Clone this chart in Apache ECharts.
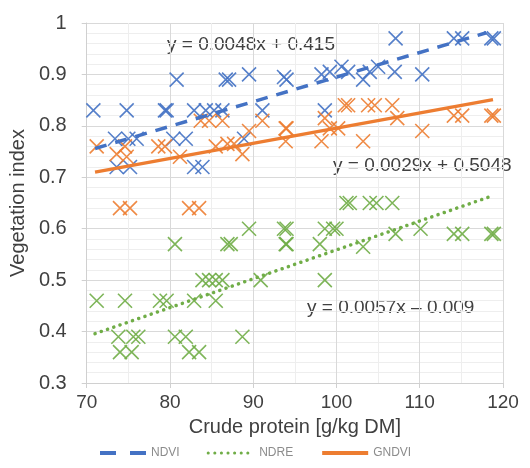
<!DOCTYPE html>
<html lang="en">
<head>
    <meta charset="UTF-8">
    <title>Vegetation index vs crude protein</title>
    <script src="https://cdn.jsdelivr.net/npm/echarts@6/dist/echarts.min.js"></script>
    <style>
        body { margin: 0; padding: 0; background: #fff; }
        #chart { width: 530px; height: 468px; }
    </style>
</head>
<body>
    <div id="chart"></div>
    <script>
        // measured points [crude protein, index]
        var ndviPts = [
            [70.8, 0.83], [74.8, 0.83], [79.4, 0.83], [79.6, 0.83], [82.9, 0.83], [84.3, 0.83], [85.3, 0.83],
            [86.3, 0.83], [91.1, 0.83], [98.6, 0.83],
            [80.8, 0.89], [86.7, 0.89], [87.1, 0.89], [89.5, 0.90], [93.7, 0.895], [94.0, 0.89],
            [98.2, 0.90], [99.2, 0.905], [100.6, 0.915], [101.4, 0.905], [103.2, 0.89], [104.0, 0.905],
            [105.0, 0.915], [107.0, 0.905], [110.3, 0.90],
            [107.1, 0.97], [114.1, 0.97], [115.1, 0.97], [118.6, 0.97], [118.9, 0.97],
            [73.4, 0.775], [75.0, 0.775], [76.0, 0.775], [80.4, 0.775], [81.9, 0.775], [88.9, 0.775],
            [73.6, 0.72], [75.2, 0.72], [82.9, 0.72], [83.9, 0.72]
        ];
        var gndviPts = [
            [71.2, 0.76], [73.6, 0.745], [74.6, 0.76], [74.8, 0.74], [78.6, 0.76], [79.4, 0.76], [81.2, 0.74],
            [83.7, 0.81], [84.7, 0.81], [86.3, 0.81], [85.5, 0.76], [86.9, 0.765], [87.7, 0.765], [88.7, 0.745],
            [89.5, 0.79], [91.1, 0.81], [93.9, 0.795], [94.0, 0.795], [93.9, 0.77], [98.2, 0.77], [98.6, 0.815],
            [99.2, 0.795], [100.2, 0.795], [101.0, 0.84], [101.4, 0.84], [103.8, 0.84], [104.6, 0.84],
            [106.7, 0.84], [107.3, 0.815], [103.2, 0.77], [110.3, 0.79], [114.1, 0.82], [115.1, 0.82],
            [118.6, 0.82], [118.9, 0.82],
            [74.0, 0.64], [75.2, 0.64], [82.3, 0.64], [83.5, 0.64]
        ];
        var ndrePts = [
            [71.2, 0.46], [74.6, 0.46], [78.8, 0.46], [79.6, 0.46], [82.9, 0.46], [85.5, 0.46],
            [80.6, 0.57], [86.9, 0.57], [87.3, 0.57], [89.5, 0.60], [93.7, 0.60], [93.9, 0.57],
            [83.9, 0.50], [84.7, 0.50], [85.5, 0.50], [86.3, 0.50], [90.9, 0.50], [98.6, 0.50],
            [88.7, 0.39], [73.8, 0.39], [75.6, 0.39], [76.2, 0.39], [80.6, 0.39], [81.9, 0.39],
            [74.0, 0.36], [75.4, 0.36], [82.3, 0.36], [83.5, 0.36],
            [101.2, 0.65], [101.6, 0.65], [104.0, 0.65], [104.8, 0.65], [106.7, 0.65],
            [94.0, 0.60], [94.0, 0.57], [98.6, 0.60], [99.6, 0.60], [100.0, 0.60], [98.0, 0.57],
            [103.2, 0.565], [107.1, 0.59], [110.1, 0.60], [114.1, 0.59], [115.1, 0.59], [118.6, 0.59], [118.9, 0.59]
        ];

        // linear trend lines (end points)
        var ndviTrend = [[71, 0.756], [118, 0.981]];
        var gndviTrend = [[71, 0.71], [118.8, 0.851]];
        var ndreTrend = [[71, 0.396], [118.2, 0.661]];

        var equations = ['y = 0.0048x + 0.415', 'y = 0.0029x + 0.5048', 'y = 0.0057x \u2013 0.009'];

        var blue = '#4472c4', orange = '#ed7d31', green = '#70ad47';
        var xMark = 'path://M0,0L10,10M10,0L0,10';
        var font = 'Liberation Sans';
        var ink = '#404040';

        function pts(name, data, color) {
            return {
                name: name,
                type: 'scatter',
                data: data,
                symbol: xMark,
                symbolSize: 14,
                itemStyle: { color: 'rgba(0,0,0,0)', borderColor: color, borderWidth: 1.6, opacity: 0.9 },
                z: 2
            };
        }

        var myChart = echarts.init(document.getElementById('chart'));

        myChart.setOption({
            animation: false,
            grid: { left: 83, right: 27, top: 23, bottom: 85 },
            textStyle: { fontFamily: font },
            xAxis: {
                type: 'value',
                min: 70, max: 120, interval: 10,
                name: 'Crude protein [g/kg DM]',
                nameLocation: 'middle',
                nameGap: 34,
                nameTextStyle: { fontSize: 20, color: ink, fontFamily: font },
                axisLine: { show: true, lineStyle: { color: '#d0d0d0' } },
                axisTick: { show: true, length: 5, lineStyle: { color: '#d0d0d0' } },
                axisLabel: { fontSize: 19, color: ink, margin: 10 },
                splitLine: { lineStyle: { color: '#d9d9d9' } },
                minorTick: { show: false, splitNumber: 2 },
                minorSplitLine: { show: true, lineStyle: { color: '#eeeeee' } }
            },
            yAxis: {
                type: 'value',
                min: 0.3, max: 1, interval: 0.1,
                name: 'Vegetation index',
                nameLocation: 'middle',
                nameGap: 56,
                nameTextStyle: { fontSize: 20, color: ink, fontFamily: font },
                axisLine: { show: true, lineStyle: { color: '#d0d0d0' } },
                axisTick: { show: true, length: 5, lineStyle: { color: '#d0d0d0' } },
                axisLabel: { fontSize: 20, color: ink, margin: 20 },
                splitLine: { lineStyle: { color: '#d9d9d9' } },
                minorTick: { show: false, splitNumber: 5 },
                minorSplitLine: { show: true, lineStyle: { color: '#eeeeee' } }
            },
            legend: {
                data: [
                    { name: 'NDVI', lineStyle: { width: 4, type: [16, 14] } },
                    { name: 'NDRE', lineStyle: { width: 3, type: [0.1, 6.5], cap: 'round' } },
                    { name: 'GNDVI', lineStyle: { width: 4 } }
                ],
                top: 442,
                left: 93,
                itemWidth: 46,
                itemHeight: 10,
                itemGap: 27,
                itemStyle: { opacity: 0 },
                textStyle: { fontSize: 12, color: '#8c8c8c', fontFamily: font }
            },
            series: [
                pts('NDVI pts', ndviPts, blue),
                pts('GNDVI pts', gndviPts, orange),
                pts('NDRE pts', ndrePts, green),
                {
                    name: 'NDVI', type: 'line', data: ndviTrend, showSymbol: false, symbol: 'none',
                    color: blue, lineStyle: { color: blue, width: 3.5, type: [12, 9] }, z: 3
                },
                {
                    name: 'NDRE', type: 'line', data: ndreTrend, showSymbol: false, symbol: 'none',
                    color: green, lineStyle: { color: green, width: 3.5, type: [0.1, 6.5], cap: 'round' }, z: 3
                },
                {
                    name: 'GNDVI', type: 'line', data: gndviTrend, showSymbol: false, symbol: 'none',
                    color: orange, lineStyle: { color: orange, width: 3.5 }, z: 3
                }
            ],
            graphic: [
                { type: 'text', left: 167, top: 35, style: { text: equations[0], fontSize: 19, fill: ink, fontFamily: font } },
                { type: 'text', left: 333, top: 156, style: { text: equations[1], fontSize: 19, fill: ink, fontFamily: font } },
                { type: 'text', left: 307, top: 298, style: { text: equations[2], fontSize: 19, fill: ink, fontFamily: font } }
            ]
        });
    </script>
</body>
</html>
